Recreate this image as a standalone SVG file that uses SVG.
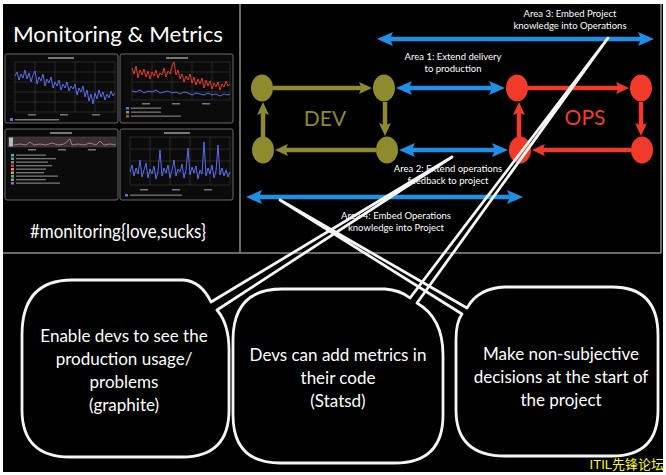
<svg xmlns="http://www.w3.org/2000/svg" width="666" height="475" viewBox="0 0 666 475">
<style>
.frame{stroke:#8c8c8c;stroke-width:1.5;fill:none}
.box{fill:#0b0b0b;stroke:#6a6a6a;stroke-width:1}
.grid{stroke:#3c3c3c;stroke-width:0.6;fill:none}
.tiny{fill:#777}
.blue{stroke:#1e8fe6;stroke-width:4.5;fill:none;marker-start:url(#bh);marker-end:url(#bh)}
.ol{stroke:#8e8a2e;stroke-width:4.5;fill:none;marker-end:url(#oh)}
.rd{stroke:#f23a2a;stroke-width:4.5;fill:none;marker-end:url(#rh)}
.on{fill:#8e8a2e}
.rn{fill:#f23a2a}
.bub{fill:none;stroke:#f5f5f5;stroke-width:2.8;stroke-linejoin:round;stroke-linecap:round}
.lbl{font-family:Lato,"Open Sans",sans-serif;font-size:9.5px;fill:#fff;text-anchor:middle}
.btx{font-family:Lato,"Open Sans",sans-serif;font-size:17px;fill:#fff;text-anchor:middle}
.big{font-family:Lato,"Open Sans",sans-serif;fill:#fff;text-anchor:middle}
</style>
<defs>
<marker id="bh" viewBox="0 0 16 14" refX="5" refY="7" markerWidth="16" markerHeight="14" markerUnits="userSpaceOnUse" orient="auto-start-reverse"><path d="M0,0 L16,7 L0,14 L3,7 Z" fill="#1e8fe6"/></marker>
<marker id="oh" viewBox="0 0 13 12" refX="4" refY="6" markerWidth="13" markerHeight="12" markerUnits="userSpaceOnUse" orient="auto"><path d="M0,0 L13,6 L0,12 L2.5,6 Z" fill="#8e8a2e"/></marker>
<marker id="rh" viewBox="0 0 13 12" refX="4" refY="6" markerWidth="13" markerHeight="12" markerUnits="userSpaceOnUse" orient="auto"><path d="M0,0 L13,6 L0,12 L2.5,6 Z" fill="#f23a2a"/></marker>
</defs>
<rect width="666" height="475" fill="#fff"/>
<rect x="3" y="4" width="660" height="468" fill="#000"/>
<g id="frames">
<line class="frame" x1="3" y1="253" x2="661" y2="253"/>
<line class="frame" x1="240" y1="4" x2="240" y2="253"/>
<line class="frame" x1="661" y1="4" x2="661" y2="253"/>
</g>
<g id="left-panel">
<text class="big" x="118" y="42" font-size="22" textLength="210" lengthAdjust="spacingAndGlyphs">Monitoring &amp; Metrics</text>
<g id="chart1">
<rect class="box" x="5" y="54" width="113" height="69" rx="2"/>
<rect class="tiny" x="48" y="57" width="26" height="2"/>
<path class="grid" d="M15,62V112M35,62V112M55,62V112M75,62V112M95,62V112M115,62V112M15,62H115M15,72H115M15,82H115M15,92H115M15,102H115M15,112H115"/>
<polyline fill="none" stroke="#5a6cf0" stroke-width="1" points="15,76 17,72 19,80 21,74 23,78 25,70 27,79 29,73 31,82 33,75 35,71 37,84 39,77 41,81 43,74 45,86 47,79 49,83 51,77 53,88 55,82 57,86 59,80 61,90 63,84 65,88 67,82 69,91 71,86 73,89 75,84 77,95 79,88 81,92 83,86 85,97 87,90 89,101 91,94 93,104 95,93 97,99 99,90 101,97 103,92 105,100 107,94 109,98 111,91 113,96 115,93"/>
<rect class="tiny" x="28" y="114" width="8" height="1.5"/><rect class="tiny" x="60" y="114" width="8" height="1.5"/><rect class="tiny" x="92" y="114" width="8" height="1.5"/>
<rect x="10" y="118" width="3" height="3" fill="#5a6cf0"/><rect class="tiny" x="15" y="119" width="44" height="1.5"/>
</g>
<g id="chart2">
<rect class="box" x="120" y="54" width="113" height="69" rx="2"/>
<rect class="tiny" x="166" y="57" width="22" height="2"/>
<path class="grid" d="M132,62V100M152,62V100M172,62V100M192,62V100M212,62V100M230,62V100M132,62H230M132,72H230M132,82H230M132,92H230M132,100H230"/>
<polyline fill="none" stroke="#e8392c" stroke-width="1" points="132,68 134,74 136,66 138,78 140,70 142,75 144,69 146,77 148,71 150,79 152,72 154,76 156,70 158,78 160,73 162,75 164,68 166,77 168,71 170,74 172,66 174,62 176,75 178,70 180,79 182,74 184,82 186,76 188,80 190,74 192,83 194,77 196,85 198,79 200,84 202,78 204,88 206,80 208,86 210,81 212,89 214,83 216,87 218,82 220,90 222,84 224,87 226,81 228,86 230,84"/>
<polyline fill="none" stroke="#5a6cf0" stroke-width="1" points="132,91 136,92 140,90 144,93 148,91 152,92 156,90 160,93 164,92 168,91 172,93 176,92 180,94 184,92 188,93 192,95 196,93 200,94 204,95 208,93 212,95 216,94 220,96 224,94 228,95 230,94"/>
<rect class="tiny" x="142" y="103" width="8" height="1.5"/><rect class="tiny" x="172" y="103" width="8" height="1.5"/><rect class="tiny" x="202" y="103" width="8" height="1.5"/>
<rect x="126" y="107" width="3" height="2.5" fill="#5a6cf0"/><rect class="tiny" x="131" y="107.5" width="30" height="1.3"/>
<rect x="126" y="111" width="3" height="2.5" fill="#3bbf6a"/><rect class="tiny" x="131" y="111.5" width="30" height="1.3"/>
<rect x="126" y="115" width="3" height="2.5" fill="#e8392c"/><rect class="tiny" x="131" y="115.5" width="50" height="1.3"/>
</g>
<g id="chart3">
<rect class="box" x="5" y="129" width="113" height="71" rx="2"/>
<rect class="tiny" x="50" y="132" width="22" height="2"/>
<rect x="8" y="137" width="108" height="10" fill="#3a3035" stroke="#555" stroke-width="0.5"/>
<rect x="9" y="137.5" width="4" height="9" fill="#bbb"/>
<polyline fill="none" stroke="#c88aa0" stroke-width="0.8" points="14,145 20,144 26,145 30,142 34,145 40,144 46,145 52,143 58,145 64,144 70,139 72,145 78,144 84,145 90,143 96,145 100,141 104,145 110,144 116,145"/>
<rect class="tiny" x="28" y="149" width="8" height="1.5"/><rect class="tiny" x="58" y="149" width="8" height="1.5"/><rect class="tiny" x="88" y="149" width="8" height="1.5"/>
<g>
<rect x="11" y="154" width="3" height="2.5" fill="#4aa8f0"/><rect class="tiny" x="16" y="154.5" width="30" height="1.3"/>
<rect x="11" y="157.5" width="3" height="2.5" fill="#3bbf6a"/><rect class="tiny" x="16" y="158" width="40" height="1.3"/>
<rect x="11" y="161" width="3" height="2.5" fill="#888"/><rect class="tiny" x="16" y="161.5" width="32" height="1.3"/>
<rect x="11" y="164.5" width="3" height="2.5" fill="#e8392c"/><rect class="tiny" x="16" y="165" width="36" height="1.3"/>
<rect x="11" y="168" width="3" height="2.5" fill="#e87aa8"/><rect class="tiny" x="16" y="168.5" width="30" height="1.3"/>
<rect x="11" y="171.5" width="3" height="2.5" fill="#e8a030"/><rect class="tiny" x="16" y="172" width="28" height="1.3"/>
<rect x="11" y="175" width="3" height="2.5" fill="#6cc040"/><rect class="tiny" x="16" y="175.5" width="42" height="1.3"/>
<rect x="11" y="178.5" width="3" height="2.5" fill="#40c0c0"/><rect class="tiny" x="16" y="179" width="30" height="1.3"/>
<rect x="11" y="182" width="3" height="2.5" fill="#c050c8"/><rect class="tiny" x="16" y="182.5" width="44" height="1.3"/>
</g>
</g>
<g id="chart4">
<rect class="box" x="120" y="129" width="113" height="71" rx="2"/>
<rect class="tiny" x="164" y="132" width="26" height="2"/>
<path class="grid" d="M130,137V185M150,137V185M170,137V185M190,137V185M210,137V185M230,137V185M130,137H230M130,149H230M130,161H230M130,173H230M130,185H230"/>
<polyline fill="none" stroke="#5a6cf0" stroke-width="1" points="130,172 132,165 134,176 136,168 138,174 140,160 142,177 144,170 146,163 148,178 150,169 152,174 154,166 156,179 158,171 160,150 162,176 164,168 166,173 168,165 170,178 172,170 174,160 176,176 178,169 180,172 182,164 184,178 186,170 188,148 190,175 192,167 194,173 196,166 198,179 200,170 202,174 204,142 206,176 208,168 210,174 212,165 214,178 216,171 218,145 220,175 222,168 224,176 226,170 228,177 230,172"/>
<rect class="tiny" x="140" y="189" width="8" height="1.5"/><rect class="tiny" x="172" y="189" width="8" height="1.5"/><rect class="tiny" x="204" y="189" width="8" height="1.5"/>
<rect x="125" y="194" width="3" height="2.5" fill="#5a6cf0"/><rect class="tiny" x="130" y="194.5" width="52" height="1.3"/>
</g>
<text class="big" x="118" y="238" font-size="19" textLength="176" lengthAdjust="spacingAndGlyphs">#monitoring{love,sucks}</text>
</g>
<g id="connectors">
<line class="ol" x1="273" y1="88" x2="363" y2="88"/>
<line class="ol" x1="385" y1="102" x2="385" y2="127"/>
<line class="ol" x1="376" y1="150" x2="284" y2="150"/>
<line class="ol" x1="263" y1="137" x2="263" y2="111"/>
<line class="rd" x1="528" y1="88" x2="620" y2="88"/>
<line class="rd" x1="641" y1="102" x2="641" y2="127"/>
<line class="rd" x1="631" y1="150" x2="541" y2="150"/>
<line class="rd" x1="519" y1="137" x2="519" y2="111"/>
<line class="blue" x1="388" y1="39" x2="643" y2="39"/>
<line class="blue" x1="407" y1="88" x2="494" y2="88"/>
<line class="blue" x1="410" y1="150" x2="497" y2="150"/>
<line class="blue" x1="257" y1="197" x2="512" y2="197"/>
</g>
<g id="dev-nodes">
<ellipse class="on" cx="262" cy="88" rx="11" ry="13.5"/>
<ellipse class="on" cx="384" cy="88" rx="11" ry="13.5"/>
<ellipse class="on" cx="263" cy="150" rx="11" ry="13.5"/>
<ellipse class="on" cx="387" cy="150" rx="11" ry="13.5"/>
<text x="325" y="126" font-family="Lato,'Open Sans',sans-serif" font-size="21" fill="#8e8a2e" text-anchor="middle">DEV</text>
</g>
<g id="ops-nodes">
<ellipse class="rn" cx="517" cy="88" rx="11" ry="13.5"/>
<ellipse class="rn" cx="641" cy="88" rx="11" ry="13.5"/>
<ellipse class="rn" cx="520" cy="150" rx="11" ry="13.5"/>
<ellipse class="rn" cx="642" cy="150" rx="11" ry="13.5"/>
<text x="585" y="125" font-family="Lato,'Open Sans',sans-serif" font-size="21" fill="#f23a2a" text-anchor="middle">OPS</text>
</g>
<g id="labels">
<text class="lbl" x="570" y="17">Area 3: Embed Project</text>
<text class="lbl" x="570" y="29">knowledge into Operations</text>
<text class="lbl" x="453" y="60">Area 1: Extend delivery</text>
<text class="lbl" x="453" y="72">to production</text>
<text class="lbl" x="448" y="172">Area 2: Extend operations</text>
<text class="lbl" x="448" y="184">feedback to project</text>
<text class="lbl" x="396" y="219">Area 4: Embed Operations</text>
<text class="lbl" x="396" y="231">knowledge into Project</text>
</g>
<g id="bubble1">
<path class="bub" d="M72,280 H183 Q201,281 211,302 L452,157 L217,310 Q229,324 229,350 V410 Q229,457 182,457 H70 Q22,457 22,410 V335 Q22,280 72,280 Z"/>
<text class="btx" x="124" y="342">Enable devs to see the</text>
<text class="btx" x="124" y="365">production usage/</text>
<text class="btx" x="124" y="388">problems</text>
<text class="btx" x="124" y="411">(graphite)</text>
</g>
<g id="bubble2">
<path class="bub" d="M282,289 H385 Q400,290 410,298 L608,38 L417,303 Q443,318 443,355 V415 Q443,463 395,463 H280 Q233,463 233,415 V340 Q233,289 282,289 Z"/>
<text class="btx" x="338" y="361">Devs can add metrics in</text>
<text class="btx" x="338" y="384">their code</text>
<text class="btx" x="338" y="407">(Statsd)</text>
</g>
<g id="bubble3">
<path class="bub" d="M462,314 L280,200 L467,308 Q478,288 505,287 H612 Q658,287 658,335 V410 Q658,456 612,456 H505 Q456,456 456,410 V340 Q456,322 462,314 Z"/>
<text class="btx" x="561" y="360">Make non-subjective</text>
<text class="btx" x="561" y="383">decisions at the start of</text>
<text class="btx" x="561" y="406">the project</text>
</g>
<text x="664" y="469" font-family="'Liberation Sans','Noto Sans CJK SC',sans-serif" font-size="13" fill="#ffff00" text-anchor="end">ITIL先锋论坛</text>
</svg>
